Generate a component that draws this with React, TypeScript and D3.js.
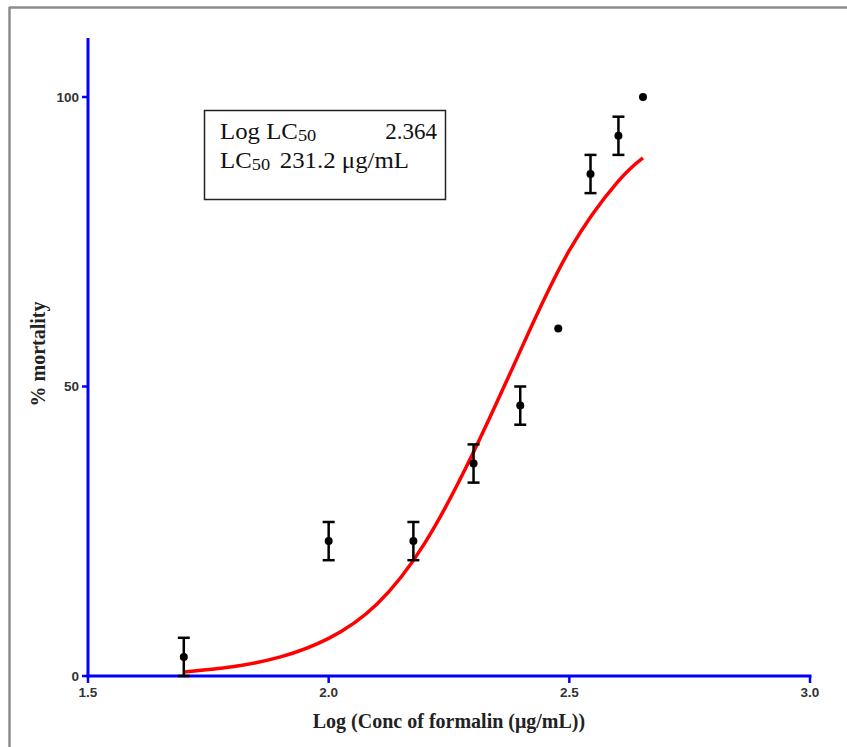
import React from "react";
import * as d3 from "d3";

// Observed data (log concentration of formalin vs % mortality, mean ± SEM)
const doseLog = [1.699, 2.0, 2.176, 2.301, 2.398, 2.477, 2.544, 2.602, 2.653];
const mortality = [3.3, 23.3, 23.3, 36.7, 46.7, 60, 86.7, 93.3, 100];
const errSEM = [3.3, 3.3, 3.3, 3.3, 3.3, 0, 3.3, 3.3, 0];

// Fitted dose-response curve
const fitX = [1.699, 1.8, 1.9, 2.0, 2.1, 2.2, 2.3, 2.4, 2.5, 2.6, 2.653];
const fitY = [0.7, 1.6, 3.3, 6.5, 12.4, 23, 38.5, 56.5, 73.5, 85.3, 89.5];

const xTicks = [1.5, 2.0, 2.5, 3.0];
const yTicks = [0, 50, 100];

const legendLine1 = { label: "Log LC", sub: "50", value: "2.364" };
const legendLine2 = { label: "LC", sub: "50", value: "231.2 μg/mL" };

const xTitle = "Log (Conc of formalin (μg/mL))";
const yTitle = "% mortality";

export default function App() {
  const W = 847;
  const H = 747;
  const x = d3.scaleLinear().domain([1.5, 3.0]).range([88, 810]);
  const y = d3.scaleLinear().domain([0, 100]).range([676, 97]);
  const yTop = y(110.2);

  const line = d3
    .line<number>()
    .x((_, i) => x(fitX[i]))
    .y((d) => y(d))
    .curve(d3.curveNatural);

  const blue = "#0000ff";
  const tickFont = "'Liberation Sans', Arial, sans-serif";
  const serif = "'Liberation Serif', 'Times New Roman', serif";

  return (
    <div style={{ position: "absolute", left: 0, top: 0 }}>
      <svg width={W} height={H} style={{ display: "block", background: "#fff" }}>
        {/* outer frame */}
        <line x1={9} y1={7.5} x2={W} y2={7.5} stroke="#8c8c8c" strokeWidth={2.5} />
        <line x1={9.5} y1={7} x2={9.5} y2={H} stroke="#8c8c8c" strokeWidth={2.5} />

        {/* fitted curve */}
        <path d={line(fitY) || ""} fill="none" stroke="#ff0000" strokeWidth={3.5} />

        {/* axes */}
        <line x1={x(1.5)} y1={yTop} x2={x(1.5)} y2={y(0) + 1.5} stroke={blue} strokeWidth={3} />
        <line x1={x(1.5) - 1.5} y1={y(0)} x2={x(3.0) + 1.5} y2={y(0)} stroke={blue} strokeWidth={3} />
        {yTicks.map((t) => (
          <g key={"y" + t}>
            <line x1={x(1.5) - 6} x2={x(1.5)} y1={y(t)} y2={y(t)} stroke={blue} strokeWidth={2.5} />
            <text
              x={x(1.5) - 9}
              y={y(t)}
              dy="0.35em"
              textAnchor="end"
              fontFamily={tickFont}
              fontWeight="bold"
              fontSize={13.5}
              fill="#333"
            >
              {d3.format("d")(t)}
            </text>
          </g>
        ))}
        {xTicks.map((t) => (
          <g key={"x" + t}>
            <line x1={x(t)} x2={x(t)} y1={y(0)} y2={y(0) + 7} stroke={blue} strokeWidth={2.5} />
            <text
              x={x(t)}
              y={y(0) + 16}
              dy="0.35em"
              textAnchor="middle"
              fontFamily={tickFont}
              fontWeight="bold"
              fontSize={13.5}
              fill="#333"
            >
              {d3.format(".1f")(t)}
            </text>
          </g>
        ))}

        {/* axis titles */}
        <text
          x={(x(1.5) + x(3.0)) / 2}
          y={721}
          dy="0.35em"
          textAnchor="middle"
          fontFamily={serif}
          fontWeight="bold"
          fontSize={20}
          fill="#222"
        >
          {xTitle}
        </text>
        <text
          transform={`translate(38, ${354}) rotate(-90)`}
          textAnchor="middle"
          dy="0.35em"
          fontFamily={serif}
          fontWeight="bold"
          fontSize={20}
          fill="#222"
        >
          {yTitle}
        </text>

        {/* error bars and points */}
        {doseLog.map((d, i) => {
          const cx = x(d);
          const e = errSEM[i];
          return (
            <g key={"p" + i}>
              {e > 0 && (
                <g stroke="#000" strokeWidth={2.5}>
                  <line x1={cx} x2={cx} y1={y(mortality[i] - e)} y2={y(mortality[i] + e)} />
                  <line x1={cx - 6} x2={cx + 6} y1={y(mortality[i] + e)} y2={y(mortality[i] + e)} />
                  <line x1={cx - 6} x2={cx + 6} y1={y(mortality[i] - e)} y2={y(mortality[i] - e)} />
                </g>
              )}
              <circle cx={cx} cy={y(mortality[i])} r={4} fill="#000" />
            </g>
          );
        })}

        {/* legend box */}
        <rect x={204.5} y={110.5} width={241} height={89} fill="#fff" stroke="#222" strokeWidth={1.5} />
        <g transform="translate(220,0) scale(1.08,1)">
          <text x={0} y={139} fontFamily={serif} fontSize={23} fill="#111">
            {legendLine1.label}
            <tspan fontSize={17} dy={2}>{legendLine1.sub}</tspan>
          </text>
          <text x={0} y={168} fontFamily={serif} fontSize={23} fill="#111">
            {legendLine2.label}
            <tspan fontSize={17} dy={2}>{legendLine2.sub}</tspan>
            <tspan dy={-2} dx={9}>{legendLine2.value}</tspan>
          </text>
        </g>
        <text x={437} y={139} textAnchor="end" fontFamily={serif} fontSize={23} fill="#111">
          {legendLine1.value}
        </text>
      </svg>
    </div>
  );
}
